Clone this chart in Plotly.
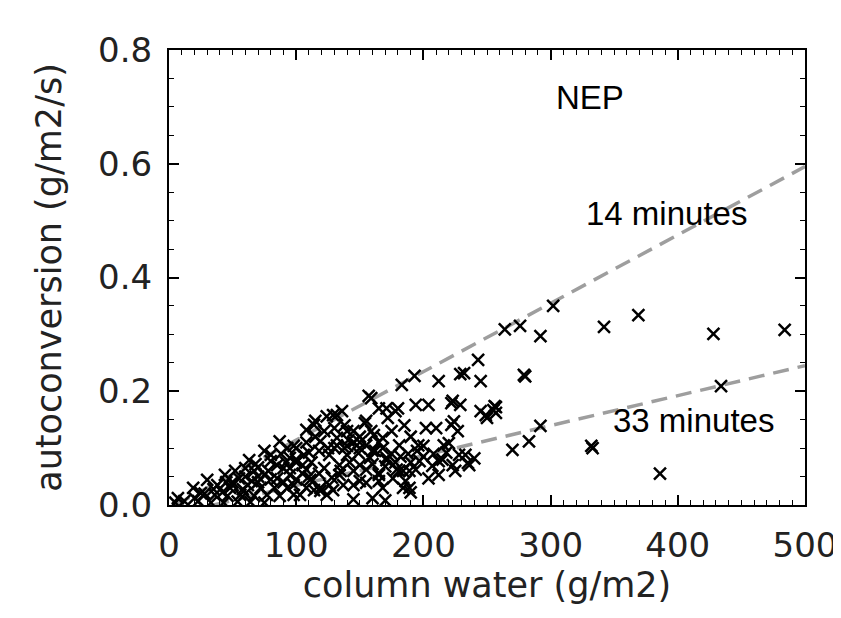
import plotly.graph_objects as go

# Column water (g/m2) and autoconversion (g/m2/s)
water = [264, 276, 292, 302, 342, 369, 428, 484, 279, 280, 434, 255, 257, 292, 270, 283, 332, 333, 386,
         243, 229, 232, 245, 223, 229, 245, 250, 256, 257, 224, 227, 220, 223, 235, 233,
         212, 193, 183, 159, 165, 180, 194, 204, 222, 136, 154, 172, 202, 210, 222, 161, 181, 196, 200, 216,
         141, 171, 197, 212, 228, 184, 194, 207,
         129, 114, 249, 236, 212, 204, 181, 165, 150, 134, 108, 119, 129, 189,
         157, 132, 124, 115, 108, 155, 159, 171, 178, 168, 119, 132, 98, 106, 126, 140, 149, 158, 171,
         95, 108, 122, 134, 145, 155, 165, 179, 189, 98, 111, 119, 126, 137, 145, 155, 165, 176, 186,
         103, 114, 124, 168, 184,
         87, 75, 63, 44, 30, 19, 7, 93, 95, 80, 90, 67, 55, 75, 85, 95, 38, 48, 62, 72, 83, 93,
         25, 36, 46, 56, 67, 77, 87, 98, 12, 23, 33, 5, 43, 54, 64, 75,
         190, 145, 160, 170, 225, 240, 218, 50, 60, 70, 100, 110, 130, 140, 150,
         20, 28, 35, 42, 50, 58, 65, 70, 78, 85, 92, 100, 105, 112, 118, 125, 132, 138, 145, 150,
         155, 162, 168, 175, 182, 188, 195, 45, 52, 60, 68, 80, 88, 100, 108, 115, 122, 130, 138, 145,
         110, 118, 128, 135, 142, 150, 160, 170, 178, 190, 200, 208, 215, 100, 90, 80, 70, 60, 105,
         160, 165, 175, 185, 190, 150, 140]
autoconv = [0.309, 0.315, 0.297, 0.350, 0.313, 0.334, 0.301, 0.308, 0.229, 0.226, 0.209, 0.167, 0.172, 0.139, 0.097, 0.112, 0.104, 0.100, 0.055,
            0.255, 0.230, 0.232, 0.218, 0.183, 0.176, 0.165, 0.153, 0.174, 0.162, 0.147, 0.130, 0.109, 0.070, 0.074, 0.088,
            0.218, 0.227, 0.211, 0.188, 0.170, 0.170, 0.176, 0.176, 0.179, 0.165, 0.144, 0.153, 0.135, 0.135, 0.141, 0.123, 0.105, 0.105, 0.104, 0.105,
            0.114, 0.083, 0.077, 0.077, 0.088, 0.060, 0.062, 0.069,
            0.158, 0.141, 0.158, 0.070, 0.053, 0.047, 0.060, 0.053, 0.042, 0.053, 0.030, 0.025, 0.026, 0.030,
            0.192, 0.158, 0.156, 0.148, 0.132, 0.148, 0.130, 0.170, 0.165, 0.118, 0.112, 0.118, 0.104, 0.088, 0.088, 0.088, 0.091, 0.083, 0.079,
            0.065, 0.062, 0.065, 0.070, 0.060, 0.062, 0.056, 0.062, 0.060, 0.035, 0.044, 0.030, 0.035, 0.035, 0.035, 0.039, 0.042, 0.047, 0.042,
            0.018, 0.026, 0.018, 0.030, 0.030,
            0.112, 0.095, 0.079, 0.053, 0.044, 0.030, 0.012, 0.100, 0.083, 0.077, 0.065, 0.060, 0.047, 0.053, 0.047, 0.053, 0.035, 0.030, 0.035, 0.030, 0.030, 0.030,
            0.021, 0.018, 0.016, 0.018, 0.016, 0.018, 0.016, 0.018, 0.007, 0.007, 0.004, 0.004, 0.004, 0.006, 0.005, 0.004,
            0.022, 0.010, 0.012, 0.008, 0.060, 0.082, 0.092, 0.040, 0.050, 0.066, 0.075, 0.092, 0.100, 0.104, 0.110,
            0.012, 0.020, 0.028, 0.022, 0.035, 0.028, 0.042, 0.050, 0.060, 0.070, 0.075, 0.080, 0.070, 0.075, 0.095, 0.100, 0.105, 0.100, 0.110, 0.120,
            0.105, 0.095, 0.100, 0.090, 0.085, 0.090, 0.095, 0.040, 0.060, 0.065, 0.072, 0.088, 0.090, 0.100, 0.110, 0.120, 0.130, 0.135, 0.140, 0.130,
            0.050, 0.055, 0.048, 0.060, 0.075, 0.070, 0.072, 0.068, 0.075, 0.075, 0.085, 0.090, 0.080, 0.045, 0.040, 0.045, 0.040, 0.020, 0.055,
            0.095, 0.110, 0.130, 0.140, 0.120, 0.100, 0.130]

# Reference timescale lines
line14_x = [5, 500]
line14_y = [0.0, 0.595]
line33_x = [35, 500]
line33_y = [0.0, 0.245]

x_ticks = [0, 100, 200, 300, 400, 500]
y_ticks = [0.0, 0.2, 0.4, 0.6, 0.8]
y_ticklabels = ["0.0", "0.2", "0.4", "0.6", "0.8"]

fig = go.Figure()
fig.add_trace(go.Scatter(x=line14_x, y=line14_y, mode="lines",
                         line=dict(color="#9e9e9e", width=3.5, dash="16px,9px"), hoverinfo="skip"))
fig.add_trace(go.Scatter(x=line33_x, y=line33_y, mode="lines",
                         line=dict(color="#9e9e9e", width=3.5, dash="16px,9px"), hoverinfo="skip"))
fig.add_trace(go.Scatter(x=water, y=autoconv, mode="markers",
                         marker=dict(symbol="x-thin", size=12, line=dict(color="black", width=2.5))))

fig.add_annotation(x=331, y=0.716, text="NEP", showarrow=False,
                   font=dict(family="Liberation Sans", size=33, color="black"))
fig.add_annotation(x=391, y=0.513, text="14 minutes", showarrow=False,
                   font=dict(family="Liberation Sans", size=33, color="black"))
fig.add_annotation(x=412, y=0.149, text="33 minutes", showarrow=False,
                   font=dict(family="Liberation Sans", size=33, color="black"))

axis_common = dict(showline=True, linewidth=2, linecolor="black", mirror="allticks",
                   ticks="inside", ticklen=10, tickwidth=1.5, tickcolor="black",
                   showgrid=False, zeroline=False,
                   tickfont=dict(family="DejaVu Sans", size=34, color="#222222"))

fig.update_xaxes(range=[0, 500], tickvals=x_ticks, ticktext=[str(v) for v in x_ticks],
                 ticklabelstandoff=9,
                 minor=dict(ticks="inside", ticklen=5, dtick=10, tickwidth=1.2, tickcolor="black", showgrid=False),
                 title=dict(text="column water (g/m2)", standoff=4,
                            font=dict(family="DejaVu Sans", size=35, color="#222222")),
                 **axis_common)
fig.update_yaxes(range=[0, 0.8], tickvals=y_ticks, ticktext=y_ticklabels,
                 ticklabelstandoff=8,
                 minor=dict(ticks="inside", ticklen=5, dtick=0.05, tickwidth=1.2, tickcolor="black", showgrid=False),
                 title=dict(text="autoconversion (g/m2/s)", standoff=26,
                            font=dict(family="DejaVu Sans", size=35, color="#222222")),
                 **axis_common)

fig.update_layout(width=841, height=618, margin=dict(l=161, r=40, t=42, b=121),
                  plot_bgcolor="white", paper_bgcolor="white", showlegend=False)

fig.write_html("out.html")
